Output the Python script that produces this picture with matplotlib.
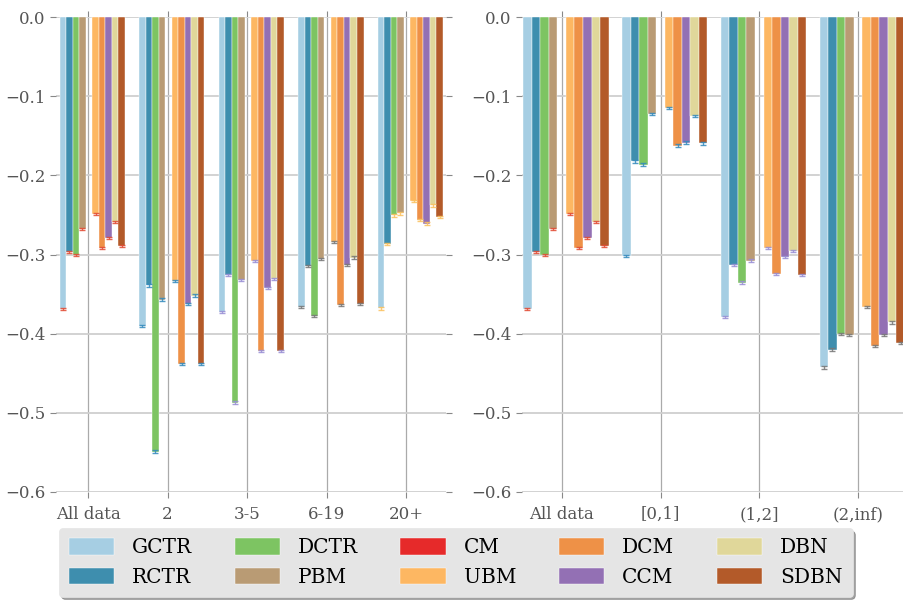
import matplotlib
matplotlib.use('Agg')
import matplotlib.pyplot as plt
import numpy as np

plt.style.use('ggplot')
plt.rcParams['font.family'] = ['DejaVu Serif']
plt.rcParams['axes.facecolor'] = 'white'
plt.rcParams['axes.unicode_minus'] = True

models = ['GCTR', 'RCTR', 'DCTR', 'PBM', 'CM', 'UBM', 'DCM', 'CCM', 'DBN', 'SDBN']
colors = ['#a6cee3', '#3e8eae', '#7dc462', '#b99b74', '#e62a2a',
          '#fdb762', '#ee9147', '#9370b4', '#e0d79a', '#b35a29']
err_colors = ['#E24A33', '#348ABD', '#988ED5', '#777777', '#FBC15E']

# left panel: by number of sessions
left_groups = ['All data', '2', '3-5', '6-19', '20+']
gctr_left = [-0.369, -0.390, -0.373, -0.366, -0.368]
rctr_left = [-0.2965, -0.339, -0.326, -0.3145, -0.287]
dctr_left = [-0.3005, -0.549, -0.487, -0.378, -0.2505]
pbm_left = [-0.268, -0.357, -0.332, -0.3055, -0.248]
cm_left = [0.0, 0.0, 0.0, 0.0, 0.0]
ubm_left = [-0.249, -0.3335, -0.308, -0.284, -0.2325]
dcm_left = [-0.292, -0.438, -0.422, -0.364, -0.2565]
ccm_left = [-0.279, -0.3625, -0.342, -0.313, -0.261]
dbn_left = [-0.259, -0.352, -0.331, -0.304, -0.238]
sdbn_left = [-0.289, -0.4385, -0.422, -0.3625, -0.253]

# right panel: by entropy bucket
right_groups = ['All data', '[0,1]', '(1,2]', '(2,inf)']
gctr_right = [-0.369, -0.302, -0.379, -0.4425]
rctr_right = [-0.2965, -0.1823, -0.313, -0.420]
dctr_right = [-0.3005, -0.1865, -0.3356, -0.4006]
pbm_right = [-0.268, -0.1225, -0.3078, -0.402]
cm_right = [0.0, 0.0, 0.0, 0.0]
ubm_right = [-0.249, -0.1146, -0.2914, -0.3667]
dcm_right = [-0.292, -0.1625, -0.325, -0.4158]
ccm_right = [-0.279, -0.1587, -0.303, -0.402]
dbn_right = [-0.259, -0.1254, -0.2956, -0.3857]
sdbn_right = [-0.289, -0.1596, -0.326, -0.412]

left_vals = [gctr_left, rctr_left, dctr_left, pbm_left, cm_left,
             ubm_left, dcm_left, ccm_left, dbn_left, sdbn_left]
right_vals = [gctr_right, rctr_right, dctr_right, pbm_right, cm_right,
              ubm_right, dcm_right, ccm_right, dbn_right, sdbn_right]

fig = plt.figure(figsize=(9.04, 6.0), dpi=100)
ax1 = fig.add_axes([56.2 / 904, 108 / 600, 389.6 / 904, 475 / 600])
ax2 = fig.add_axes([522.2 / 904, 108 / 600, 385.3 / 904, 475 / 600])


def draw_panel(ax, groups, vals, width, offset):
    x = np.arange(len(groups))
    handles = []
    for j, (name, v) in enumerate(zip(models, vals)):
        xs = x + offset + j * width
        h = ax.bar(xs, v, width, align='edge', color=colors[j],
                   edgecolor='white', linewidth=0.3, label=name, zorder=2)
        handles.append(h)
        for i in range(len(groups)):
            if v[i] != 0:
                ax.errorbar(xs[i] + width / 2, v[i], yerr=0.0015, fmt='none',
                            ecolor=err_colors[i % len(err_colors)], elinewidth=1,
                            capsize=2.5, capthick=1, alpha=0.85, zorder=3)
    ax.set_xticks(x)
    ax.set_xticklabels(groups)
    ax.set_xlim(-0.4, len(groups) - 0.5)
    ax.set_ylim(-0.6, 0.0)
    ax.set_yticks([0.0, -0.1, -0.2, -0.3, -0.4, -0.5, -0.6])
    ax.set_yticklabels(['0.0', '\u22120.1', '\u22120.2', '\u22120.3',
                        '\u22120.4', '\u22120.5', '\u22120.6'])
    ax.grid(axis='y', color='#cfcfcf', linewidth=1.3, zorder=0)
    ax.grid(axis='x', color='#aaaaaa', linewidth=0.9, zorder=0)
    ax.set_axisbelow(True)
    for s in ax.spines.values():
        s.set_visible(False)
    ax.tick_params(axis='both', which='both', direction='out', length=4,
                   color='#888888', labelcolor='#555555', labelsize=12,
                   top=True, right=True, labeltop=False, labelright=False)
    ax.tick_params(axis='x', pad=6)
    return handles


handles = draw_panel(ax1, left_groups, left_vals, 0.0823, -0.358)
draw_panel(ax2, right_groups, right_vals, 0.0865, -0.39)

leg = fig.legend(handles, models, loc='center', bbox_to_anchor=(0.504, 0.0625),
                 ncol=5, fontsize=14.5, frameon=True, facecolor='#e5e5e5',
                 edgecolor='#e5e5e5', framealpha=1.0, shadow=True,
                 handlelength=2.25, handleheight=0.85, handletextpad=0.9,
                 columnspacing=2.1, labelspacing=0.5, borderpad=0.5)
for t in leg.get_texts():
    t.set_color('black')

fig.savefig('out.png', dpi=100)
